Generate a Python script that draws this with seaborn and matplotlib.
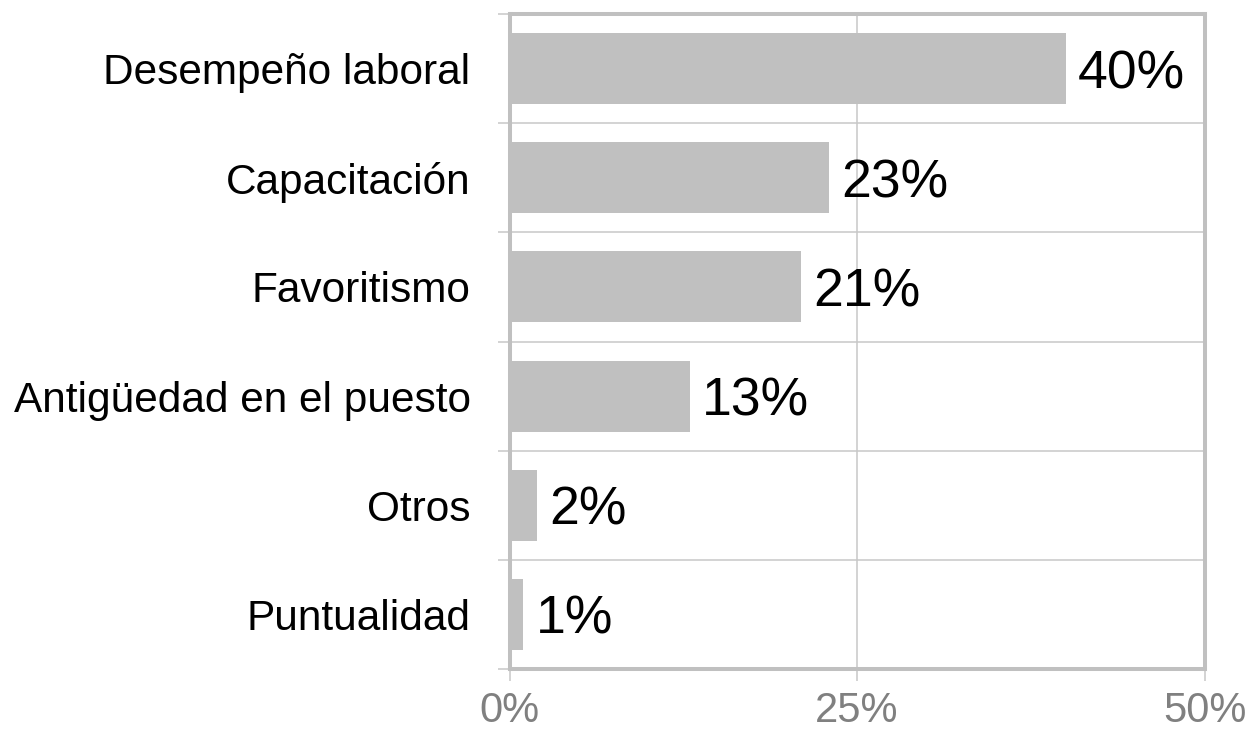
import matplotlib
matplotlib.use("Agg")
import matplotlib.pyplot as plt
import numpy as np
import pandas as pd
import seaborn as sns
from matplotlib.ticker import FixedLocator, FixedFormatter, NullFormatter, PercentFormatter

# Motivos de ascenso y su porcentaje de respuestas
categories = ["Desempeño laboral", "Capacitación", "Favoritismo",
              "Antigüedad en el puesto", "Otros", "Puntualidad"]
values = [40, 23, 21, 13, 2, 1]
value_labels = ["40%", "23%", "21%", "13%", "2%", "1%"]
x_ticks = [0, 25, 50]

sns.set_theme(style="white")
plt.rcParams["font.family"] = ["Liberation Sans", "DejaVu Sans"]

df = pd.DataFrame({"motivo": categories, "porcentaje": values})

W, H = 1249, 734
fig = plt.figure(figsize=(W / 100, H / 100), dpi=100)
left, right, top, bottom = 509.5, 1204.5, 14, 669
ax = fig.add_axes([left / W, 1 - bottom / H, (right - left) / W, (bottom - top) / H])

sns.barplot(data=df, x="porcentaje", y="motivo", orient="h", color="#c0c0c0",
            saturation=1, width=0.65, edgecolor="none", linewidth=0, ax=ax)

ax.set_xlim(x_ticks[0], x_ticks[-1])
ax.set_ylim(len(categories) - 0.5, -0.5)
ax.set_xlabel("")
ax.set_ylabel("")

# x axis: percentage ticks
ax.xaxis.set_major_locator(FixedLocator(x_ticks))
ax.xaxis.set_major_formatter(PercentFormatter(xmax=100, decimals=0))

# y axis: ticks on category boundaries, labels centred on bars
ax.yaxis.set_major_locator(FixedLocator(np.arange(-0.5, len(categories), 1)))
ax.yaxis.set_major_formatter(NullFormatter())
ax.yaxis.set_minor_locator(FixedLocator(np.arange(len(categories))))
ax.yaxis.set_minor_formatter(FixedFormatter(categories))

grid_c = "#c8c8c8"
spine_c = "#c0c0c0"
ax.tick_params(axis="y", which="major", left=True, length=8.6, width=1.1,
               color=grid_c, direction="out")
ax.tick_params(axis="y", which="minor", left=True, length=0, pad=28,
               labelsize=30.5, labelcolor="black")
ax.tick_params(axis="x", which="major", bottom=True, length=8.6, width=1.1,
               color=grid_c, direction="out", labelsize=30,
               labelcolor="#808080", pad=7)

ax.grid(True, which="major", color=grid_c, linewidth=1.1)
ax.set_axisbelow(True)
for s in ax.spines.values():
    s.set_visible(True)
    s.set_color(spine_c)
    s.set_linewidth(2.9)

for i, (v, lab) in enumerate(zip(values, value_labels)):
    ax.annotate(lab, xy=(v, i), xytext=(12, 0), textcoords="offset pixels",
                ha="left", va="center_baseline", fontsize=38.5, color="black")

fig.savefig("out.png", dpi=100)
